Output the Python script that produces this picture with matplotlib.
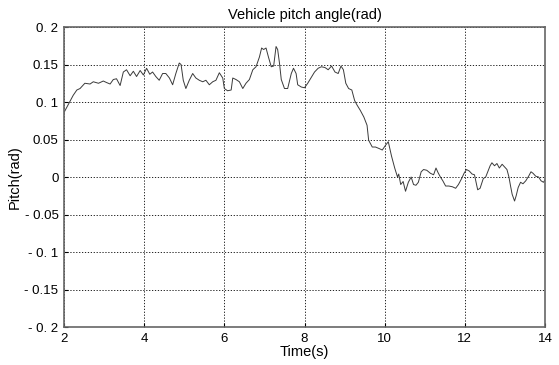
import matplotlib
matplotlib.use("Agg")
import matplotlib.pyplot as plt

plt.rcParams['font.family'] = ['Liberation Sans', 'DejaVu Sans']

# values (time in s, pitch in rad)
time_s = [
    2.00, 2.06, 2.11, 2.15, 2.23, 2.32, 2.40, 2.52, 2.65, 2.73, 2.86, 2.98,
    3.06, 3.15, 3.23, 3.31, 3.40, 3.48, 3.56, 3.65, 3.73, 3.81, 3.90, 3.98,
    4.06, 4.14, 4.21, 4.29, 4.375, 4.46, 4.54, 4.63, 4.71, 4.79, 4.875, 4.92,
    4.975, 5.04, 5.125, 5.21, 5.29, 5.375, 5.46, 5.54, 5.625, 5.71, 5.79,
    5.875, 5.96, 6.00, 6.08, 6.17, 6.21, 6.29, 6.375, 6.46, 6.54, 6.625,
    6.71, 6.79, 6.875, 6.93, 6.98, 7.04, 7.10, 7.17, 7.23, 7.29, 7.33,
    7.375, 7.42, 7.50, 7.58, 7.67, 7.725, 7.79, 7.83, 7.92, 8.00, 8.08,
    8.17, 8.25, 8.34, 8.42, 8.51, 8.59, 8.675, 8.76, 8.84, 8.91, 8.97,
    9.03, 9.10, 9.18, 9.25, 9.31, 9.39, 9.48, 9.56, 9.60, 9.69, 9.77,
    9.86, 9.94, 10.03, 10.09, 10.17, 10.25, 10.32, 10.35, 10.40, 10.46,
    10.52, 10.59, 10.66, 10.72, 10.78, 10.84, 10.91, 10.97, 11.05, 11.14,
    11.22, 11.28, 11.33, 11.39, 11.45, 11.52, 11.60, 11.69, 11.77, 11.84,
    11.92, 11.98, 12.04, 12.11, 12.18, 12.24, 12.32, 12.38, 12.46, 12.52,
    12.57, 12.63, 12.675, 12.74, 12.80, 12.86, 12.93, 13.00, 13.05, 13.10,
    13.14, 13.18, 13.24, 13.28, 13.33, 13.39, 13.45, 13.52, 13.59, 13.65,
    13.70, 13.77, 13.84, 13.90, 13.96, 14.00,
]
pitch = [
    0.086, 0.092, 0.097, 0.101, 0.109, 0.116, 0.118, 0.125, 0.124, 0.127,
    0.125, 0.128, 0.126, 0.124, 0.130, 0.131, 0.122, 0.140, 0.143, 0.135,
    0.141, 0.134, 0.142, 0.136, 0.145, 0.137, 0.140, 0.134, 0.129, 0.138,
    0.138, 0.132, 0.123, 0.138, 0.152, 0.150, 0.129, 0.118, 0.129, 0.138,
    0.132, 0.129, 0.127, 0.129, 0.123, 0.127, 0.129, 0.139, 0.132, 0.118,
    0.115, 0.116, 0.132, 0.130, 0.127, 0.118, 0.125, 0.130, 0.143, 0.147,
    0.160, 0.172, 0.170, 0.172, 0.160, 0.147, 0.148, 0.174, 0.170, 0.152,
    0.130, 0.118, 0.118, 0.138, 0.145, 0.138, 0.123, 0.120, 0.119, 0.125,
    0.133, 0.140, 0.145, 0.147, 0.146, 0.143, 0.148, 0.140, 0.138, 0.148,
    0.143, 0.125, 0.118, 0.116, 0.102, 0.096, 0.089, 0.080, 0.069, 0.049,
    0.040, 0.040, 0.038, 0.036, 0.043, 0.047, 0.028, 0.012, 0.000, 0.004,
    -0.010, -0.006, -0.019, -0.007, 0.000, -0.010, -0.011, -0.007, 0.007,
    0.010, 0.009, 0.005, 0.003, 0.012, 0.006, 0.000, -0.005, -0.012, -0.012,
    -0.013, -0.015, -0.010, -0.002, 0.005, 0.010, 0.008, 0.004, 0.003,
    -0.017, -0.015, -0.002, 0.000, 0.007, 0.015, 0.019, 0.015, 0.018, 0.012,
    0.017, 0.013, 0.010, 0.000, -0.012, -0.023, -0.032, -0.025, -0.014,
    -0.007, -0.009, -0.005, 0.001, 0.007, 0.005, 0.001, 0.000, -0.005,
    -0.007, -0.004,
]

x_ticks = [2, 4, 6, 8, 10, 12, 14]
y_ticks = [0.2, 0.15, 0.1, 0.05, 0, -0.05, -0.1, -0.15, -0.2]
y_labels = ['0. 2', '0.15', '0. 1', '0.05', '0', '- 0.05', '- 0. 1', '- 0.15', '- 0. 2']

fig = plt.figure(figsize=(5.59, 3.65), dpi=100)
ax = fig.add_axes([0.1145, 0.104, 0.8605, 0.822])

ax.plot(time_s, pitch, color='#3a3a3a', linewidth=0.7)

ax.set_xlim(2, 14)
ax.set_ylim(-0.2, 0.2)
ax.set_xticks(x_ticks)
ax.set_xticklabels([str(t) for t in x_ticks])
ax.set_yticks(y_ticks)
ax.set_yticklabels(y_labels)
ax.tick_params(direction='in', length=3, labelsize=9.5, pad=4, colors='black')
ax.grid(True, linestyle=(0, (1.5, 2)), color='black', linewidth=0.6)
for s in ax.spines.values():
    s.set_color('#666666')
    s.set_linewidth(1.2)

ax.set_title('Vehicle pitch angle(rad)', fontsize=10.5, pad=6)
ax.set_xlabel('Time(s)', fontsize=10.5, labelpad=0)
ax.set_ylabel('Pitch(rad)', fontsize=10.5, labelpad=2)

fig.savefig('out.png', dpi=100)
